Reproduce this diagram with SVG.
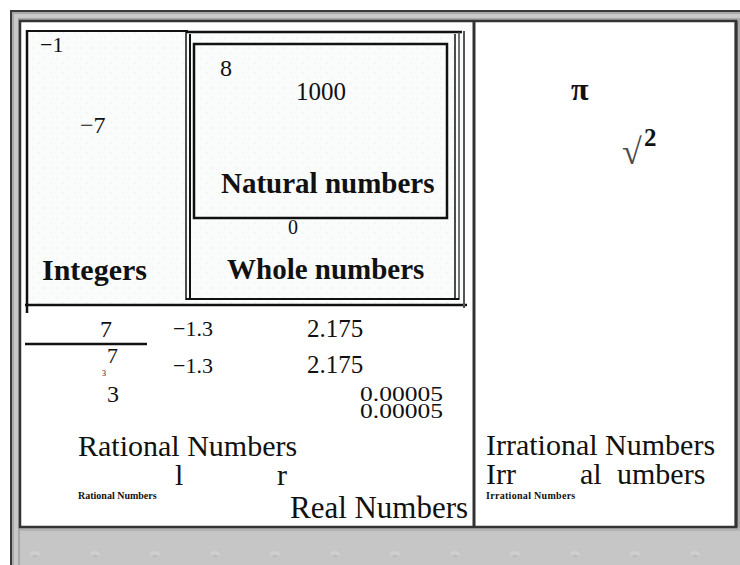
<svg xmlns="http://www.w3.org/2000/svg" width="740" height="565" viewBox="0 0 740 565">
<defs>
<style>
.t{font-family:"Liberation Serif","Times New Roman",serif;fill:#111}
.b{font-weight:bold}
.ln{stroke:#111;fill:none}
</style>
<pattern id="dots" width="12" height="10" patternUnits="userSpaceOnUse">
<rect width="12" height="10" fill="#fafbfb"/>
<circle cx="3" cy="3" r="0.8" fill="#eaeeee"/>
<circle cx="9" cy="8" r="0.8" fill="#eaeeee"/>
</pattern>
<pattern id="band" width="60" height="37" patternUnits="userSpaceOnUse" x="5" y="528">
<rect width="60" height="37" fill="#c6c6c6"/>
<rect y="0" width="60" height="3" fill="#b3b3b3"/>
<ellipse cx="30" cy="26" rx="5" ry="3" fill="#cfcfcf"/>
<ellipse cx="30" cy="28" rx="3" ry="1.2" fill="#bdbdbd"/>
</pattern>
</defs>
<rect width="740" height="565" fill="#ffffff"/>
<g id="frame">
<rect x="10" y="10" width="730" height="555" fill="#a9a9a9"/>
<line x1="10" y1="11" x2="740" y2="11" stroke="#3a3a3a" stroke-width="2"/>
<line x1="11" y1="10" x2="11" y2="565" stroke="#3a3a3a" stroke-width="2"/>
<rect x="14" y="14" width="4" height="551" fill="#c9c9c9"/>
<rect x="14" y="14" width="726" height="4" fill="#c9c9c9"/>
<rect x="20" y="528" width="720" height="37" fill="url(#band)"/>
</g>
<g id="real-numbers">
<rect x="20" y="21" width="716" height="506" fill="#ffffff" stroke="#333" stroke-width="2.5"/>
<line x1="736" y1="21" x2="736" y2="527" stroke="#333" stroke-width="3"/>
<text class="t" x="290" y="518" font-size="31" textLength="178" lengthAdjust="spacingAndGlyphs">Real Numbers</text>
</g>
<g id="irrational-numbers">
<line x1="474" y1="21" x2="474" y2="527" stroke="#333" stroke-width="3"/>
<text class="t b" x="571" y="100" font-size="32">π</text>
<text class="t b" x="622" y="164" font-size="36" style="fill:#4a4a4a">√</text>
<text class="t b" x="644" y="146" font-size="25">2</text>
<text class="t" x="486" y="455" font-size="30">Irrational Numbers</text>
<text class="t" x="486" y="484" font-size="30">Irr</text>
<text class="t" x="580" y="484" font-size="30">al</text>
<text class="t" x="617" y="484" font-size="30">umbers</text>
<text class="t b" x="486" y="499" font-size="10" letter-spacing="0.3">Irrational Numbers</text>
</g>
<g id="rational-numbers">
<text class="t" x="100" y="337" font-size="24">7</text>
<line class="ln" x1="25" y1="344" x2="147" y2="344" stroke-width="2.5"/>
<text class="t" x="107" y="363" font-size="22">7</text>
<text class="t" x="102" y="376" font-size="8">3</text>
<text class="t" x="107" y="402" font-size="24">3</text>
<text class="t" x="173" y="336" font-size="22">−1.3</text>
<text class="t" x="173" y="373" font-size="22">−1.3</text>
<text class="t" x="307" y="337" font-size="25">2.175</text>
<text class="t" x="307" y="373" font-size="25">2.175</text>
<text class="t" x="360" y="401" font-size="22" textLength="83" lengthAdjust="spacingAndGlyphs">0.00005</text>
<text class="t" x="360" y="418" font-size="22" textLength="83" lengthAdjust="spacingAndGlyphs">0.00005</text>
<text class="t" x="78" y="456" font-size="30">Rational Numbers</text>
<text class="t" x="175" y="485" font-size="30">l</text>
<text class="t" x="277" y="485" font-size="30">r</text>
<text class="t b" x="78" y="499" font-size="10">Rational Numbers</text>
</g>
<g id="integers">
<rect x="27" y="31" width="438" height="274" fill="url(#dots)"/>
<line class="ln" x1="27" y1="30" x2="27" y2="313" stroke-width="2.5"/>
<line class="ln" x1="26" y1="31" x2="188" y2="31" stroke-width="2"/>
<line class="ln" x1="25" y1="305" x2="467" y2="305" stroke-width="2.5"/>
<line x1="464" y1="31" x2="464" y2="308" stroke="#555" stroke-width="2"/>
<text class="t" x="40" y="52" font-size="22">−1</text>
<text class="t" x="80" y="133" font-size="24">−7</text>
<text class="t b" x="42" y="280" font-size="30">Integers</text>
</g>
<g id="whole-numbers">
<line class="ln" x1="186" y1="31" x2="186" y2="300" stroke-width="1.5"/>
<line class="ln" x1="190" y1="34" x2="190" y2="300" stroke-width="2"/>
<line class="ln" x1="186" y1="32" x2="462" y2="32" stroke-width="2.5"/>
<line class="ln" x1="455" y1="34" x2="455" y2="299" stroke-width="1.5"/>
<line x1="459" y1="32" x2="459" y2="300" stroke="#444" stroke-width="1.5"/>
<line class="ln" x1="186" y1="299" x2="459" y2="299" stroke-width="2"/>
<text class="t" x="288" y="234" font-size="20">0</text>
<text class="t b" x="227" y="279" font-size="29">Whole numbers</text>
</g>
<g id="natural-numbers">
<rect x="194" y="44" width="253" height="174" class="ln" stroke-width="2.5"/>
<text class="t" x="220" y="76" font-size="24">8</text>
<text class="t" x="296" y="100" font-size="25">1000</text>
<text class="t b" x="221" y="193" font-size="29">Natural numbers</text>
</g>
<g id="connectors"></g>
</svg>
